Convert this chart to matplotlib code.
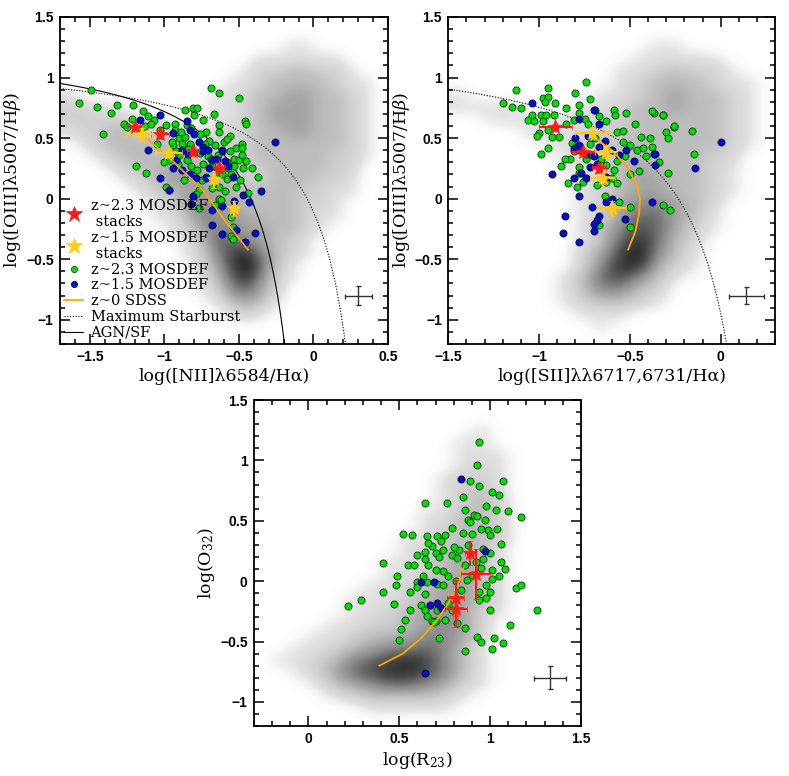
import numpy as np
import matplotlib
matplotlib.use("Agg")
import matplotlib.pyplot as plt
from matplotlib.colors import LinearSegmentedColormap
from matplotlib.lines import Line2D
from matplotlib.ticker import MultipleLocator, FuncFormatter

plt.rcParams['mathtext.fontset'] = 'dejavuserif'

# ---- SDSS density maps (0.1 dex cells, top row first), digits 0-9 ----
sdss_n2 = [
    "0000000000000000000000", "0000000000000000000000", "0000000000000001100000",
    "0000000000000111111000", "0000000000001223322100", "0000000000011233332110",
    "1000000000112334433210", "2211000000112344433210", "2222211000112344433210",
    "1223322211122334433210", "0123333322222333333210", "0012333333222333332210",
    "0001233443322233332200", "0000123444332233322100", "0000012344433333221100",
    "0000001245443333221000", "0000001135544333211000", "0000000124554433210000",
    "0000000013665432100000", "0000000012578532100000", "0000000002479631000000",
    "0000000001368521000000", "0000000001256420000000", "0000000000134310000000",
    "0000000000012100000000", "0000000000000000000000", "0000000000000000000000",
]
sdss_s2 = [
    "000000000000000000", "000000000000000000", "000000000001100000",
    "000000000011111000", "000000000112322100", "000000000123332110",
    "100000001123433210", "111100011233433210", "001111112233333210",
    "000011122233333210", "000001122333333210", "000000112333332200",
    "000000112343332100", "000000012344332100", "000000012344332100",
    "000000012455432000", "000000012466431000", "000000013576421000",
    "000000013686320000", "000000024795310000", "000000025884210000",
    "000000136753100000", "000000135532000000", "000000123321000000",
    "000000011100000000", "000000001000000000", "000000000000000000",
]
sdss_r23 = [
    "000000000000000000", "000000000000000000", "000000000000100000",
    "000000000001100000", "000000000001110000", "000000000001210000",
    "000000000012210000", "000000000012310000", "000000000012320000",
    "000000000113320000", "000000000123320000", "000000001123320000",
    "000000001233310000", "000000011234310000", "000000011234310000",
    "000000112344310000", "000001112344310000", "000001123454210000",
    "000011223454200000", "000112334554200000", "001123455653100000",
    "011235678753100000", "001246788753100000", "000134566542100000",
    "000012333321000000", "000000111110000000", "000000000000000000",
]

# ---- MOSDEF individual galaxies ----
n2_green_x = [-1.49, -1.57, -1.45, -1.36, -1.32, -1.41, -1.21, -1.22, -1.14, -1.11, -1.07, -1.03,
              -1.13, -0.99, -0.93, -0.93, -0.90, -0.86, -0.85, -0.82, -0.80, -0.81, -0.74, -0.67,
              -0.63, -0.63, -0.69, -0.63, -0.46, -0.45, -0.48, -0.52, -0.56, -0.61, -0.53, -0.50,
              -0.41, -0.55, -0.58, -0.63, -0.68, -0.72, -0.75, -0.77, -0.79, -0.77, -0.66, -0.63,
              -0.55, -0.54, -1.19, -1.12, -0.99, -0.97, -0.94, -0.90, -0.85, -0.82, -0.78, -0.91,
              -0.97, -0.74, -0.71, -0.68, -0.65, -0.61, -0.57, -0.48, -0.48, -0.45, -0.50, -0.86,
              -0.78, -0.37, -0.62, -0.55, -0.54, -1.27, -1.05, -0.88, -0.70, -0.60, -0.58, -0.52,
              -0.44, -0.95, -0.87, -0.76, -0.72, -0.66, -0.59, -0.56, -1.00, -1.16, -0.83, -0.47,
              -1.25, -1.09, -0.92, -0.89, -0.84, -0.76, -0.73, -0.69, -0.64, -0.58, -0.53, -0.49]
n2_green_y = [0.90, 0.79, 0.76, 0.71, 0.77, 0.53, 0.77, 0.66, 0.72, 0.68, 0.65, 0.57,
              0.60, 0.61, 0.62, 0.57, 0.50, 0.51, 0.61, 0.58, 0.69, 0.75, 0.65, 0.70,
              0.61, 0.55, 0.91, 0.87, 0.64, 0.62, 0.45, 0.42, 0.39, 0.40, 0.33, 0.32,
              0.25, 0.20, 0.16, 0.10, 0.09, 0.18, 0.15, 0.07, 0.04, -0.08, -0.05, 0.00,
              -0.15, -0.23, 0.27, 0.21, 0.10, 0.07, 0.44, 0.36, 0.32, 0.27, 0.24, 0.29,
              0.32, 0.29, 0.35, 0.27, 0.22, 0.20, 0.25, 0.42, 0.36, 0.31, 0.83, 0.73,
              0.75, 0.18, -0.01, -0.31, -0.33, 0.62, 0.45, 0.45, 0.48, 0.47, 0.30, 0.10,
              0.05, 0.47, 0.15, 0.38, 0.55, 0.44, 0.06, 0.52, 0.30, 0.56, 0.45, 0.25,
              0.59, 0.62, 0.39, 0.55, 0.41, 0.53, 0.45, 0.33, 0.36, 0.49, 0.27, 0.15]
n2_blue_x = [-1.03, -1.11, -0.94, -0.85, -0.83, -0.80, -0.88, -0.84, -0.77, -0.74, -0.75, -0.71,
             -0.68, -0.65, -0.61, -0.59, -0.92, -0.94, -0.88, -1.03, -0.83, -0.79, -0.72, -0.81,
             -0.82, -0.68, -0.61, -0.68, -0.61, -0.52, -0.43, -0.54, -0.26, -0.35, -0.39, -0.46,
             -0.97, -1.16, -0.57, -0.53, -0.47, -0.70]
n2_blue_y = [0.69, 0.40, 0.54, 0.64, 0.57, 0.53, 0.40, 0.37, 0.47, 0.43, 0.39, 0.40,
             0.32, 0.33, 0.39, 0.31, 0.32, 0.25, 0.24, 0.17, 0.20, 0.17, 0.17, 0.02,
             -0.04, -0.09, -0.06, -0.22, -0.29, -0.26, -0.03, 0.18, 0.47, 0.06, -0.28, -0.36,
             0.07, 0.65, 0.27, -0.02, 0.03, 0.25]

s2_green_x = [-1.13, -1.20, -1.15, -1.10, -0.98, -0.95, -0.95, -0.97, -0.91, -0.80, -0.74, -0.72,
              -0.78, -0.85, -1.04, -1.06, -1.03, -0.99, -0.98, -0.96, -0.92, -1.00, -1.01, -0.95,
              -0.93, -0.89, -0.95, -0.99, -0.85, -0.81, -0.78, -0.75, -0.73, -0.69, -0.67, -0.63,
              -0.59, -0.58, -0.52, -0.47, -0.37, -0.32, -0.30, -0.26, -0.29, -0.57, -0.54, -0.50,
              -0.46, -0.43, -0.39, -0.44, -0.38, -0.41, -0.53, -0.57, -0.59, -0.63, -0.66, -0.71,
              -0.74, -0.83, -0.86, -0.81, -0.78, -0.78, -0.84, -0.79, -0.76, -0.68, -0.63, -0.60,
              -0.57, -0.64, -0.56, -0.50, -0.50, -0.67, -0.32, -0.28, -0.16, -0.15, -0.26, -0.32,
              -0.38, -0.34, -0.50, -0.29, -0.88, -0.72, -0.69, -0.82, -0.54, -0.45]
s2_green_y = [0.90, 0.79, 0.76, 0.75, 0.83, 0.84, 0.91, 0.80, 0.79, 0.87, 0.96, 0.82,
              0.77, 0.75, 0.69, 0.65, 0.64, 0.69, 0.64, 0.69, 0.69, 0.54, 0.52, 0.57,
              0.51, 0.51, 0.42, 0.37, 0.62, 0.65, 0.71, 0.66, 0.62, 0.73, 0.68, 0.64,
              0.73, 0.69, 0.71, 0.62, 0.71, 0.69, 0.55, 0.59, 0.50, 0.55, 0.47, 0.44,
              0.40, 0.42, 0.50, 0.51, 0.43, 0.35, 0.35, 0.31, 0.24, 0.28, 0.33, 0.36,
              0.33, 0.33, 0.33, 0.39, 0.26, 0.21, 0.13, 0.10, 0.14, 0.11, 0.14, 0.17,
              0.13, 0.02, -0.03, -0.07, -0.23, -0.22, -0.05, -0.09, 0.56, 0.37, 0.60, 0.69,
              0.72, 0.30, 0.20, 0.21, 0.27, 0.45, 0.50, 0.46, 0.56, 0.23]
s2_blue_x = [-1.04, -0.70, -0.78, -0.67, -0.80, -0.78, -0.81, -0.78, -0.74, -0.70, -0.67, -0.64,
             -0.60, -0.56, -0.68, -0.72, -0.77, -0.81, -0.74, -0.63, -0.52, -0.93, -0.78, -0.71,
             -0.63, -0.60, -0.67, -0.68, -0.70, -0.86, -0.87, -0.78, -0.70, -0.53, -0.48, -0.36,
             -0.38, 0.00, -0.14, -0.37, -0.36, -0.73]
s2_blue_y = [0.79, 0.73, 0.66, 0.62, 0.50, 0.44, 0.42, 0.40, 0.37, 0.35, 0.43, 0.48,
             0.40, 0.36, 0.29, 0.26, 0.21, 0.17, 0.17, 0.18, 0.40, 0.20, 0.02, -0.07,
             -0.03, 0.00, -0.14, -0.18, -0.21, -0.14, -0.28, -0.36, -0.27, -0.17, 0.31, 0.37,
             -0.03, 0.47, 0.25, 0.37, 0.28, 0.52]

r23_green_x = [0.94, 0.93, 0.89, 0.94, 1.07, 1.01, 1.05, 0.85, 0.64, 0.76, 0.86, 0.91,
               0.93, 0.98, 1.03, 1.10, 1.17, 0.88, 0.89, 0.97, 0.95, 0.99, 1.04, 0.79,
               0.75, 0.65, 0.71, 0.52, 0.57, 0.85, 0.90, 1.00, 1.06, 0.73, 0.68, 0.64,
               0.60, 0.64, 0.70, 0.74, 0.72, 0.79, 0.82, 0.86, 0.92, 0.96, 1.00, 1.06,
               1.08, 1.01, 0.95, 1.01, 1.05, 0.98, 1.00, 0.94, 0.87, 0.84, 0.77, 0.74,
               0.70, 0.66, 0.63, 0.60, 0.65, 0.71, 0.74, 0.60, 0.64, 0.56, 0.55, 0.49,
               0.48, 0.41, 0.47, 0.53, 0.51, 0.50, 0.22, 0.29, 0.62, 0.64, 0.65, 0.68,
               0.70, 0.72, 0.71, 0.75, 0.77, 0.79, 0.82, 0.86, 0.86, 0.93, 0.95, 0.94,
               0.98, 1.00, 1.02, 1.07, 1.01, 1.11, 1.14, 1.17, 1.26, 0.41, 0.58, 0.66,
               0.83, 0.88, 0.90, 0.80, 0.96, 0.69, 0.56, 0.81]
r23_green_y = [1.15, 0.96, 0.83, 0.79, 0.83, 0.74, 0.71, 0.70, 0.65, 0.65, 0.59, 0.55,
               0.54, 0.62, 0.59, 0.58, 0.53, 0.51, 0.49, 0.51, 0.43, 0.42, 0.43, 0.44,
               0.38, 0.37, 0.37, 0.39, 0.38, 0.40, 0.39, 0.38, 0.31, 0.33, 0.29, 0.24,
               0.22, 0.18, 0.23, 0.26, 0.20, 0.22, 0.19, 0.13, 0.16, 0.18, 0.23, 0.16,
               0.10, 0.09, 0.11, 0.02, 0.04, -0.03, -0.09, -0.09, 0.01, -0.07, 0.04, 0.08,
               0.09, 0.13, 0.04, -0.01, -0.01, -0.02, -0.03, -0.05, -0.11, -0.09, 0.13, 0.04,
               -0.03, -0.09, -0.19, -0.32, -0.40, -0.49, -0.21, -0.16, -0.20, -0.24, -0.29, -0.33,
               -0.33, -0.47, -0.24, -0.32, -0.18, -0.24, -0.35, -0.39, -0.58, -0.46, -0.50, -0.16,
               -0.14, -0.24, -0.47, -0.51, -0.56, -0.36, -0.06, -0.03, -0.24, 0.15, 0.13, 0.32,
               0.26, 0.30, 0.05, 0.28, 0.27, -0.34, -0.24, 0.00]
r23_blue_x = [0.84, 0.97, 0.62, 0.69, 0.67, 0.71, 0.73, 0.64]
r23_blue_y = [0.85, 0.25, -0.01, -0.01, -0.20, -0.18, -0.22, -0.76]

# ---- stacks: x, y, xerr, yerr ----
n2_red = ([-1.20, -1.03, -0.81, -0.63], [0.59, 0.53, 0.39, 0.25],
          [0.05, 0.06, 0.04, 0.03], [0.03, 0.04, 0.04, 0.04])
n2_yel = ([-1.15, -0.97, -0.67, -0.53], [0.53, 0.38, 0.16, -0.08],
          [0.11, 0.09, 0.03, 0.03], [0.05, 0.04, 0.07, 0.06])
s2_red = ([-0.91, -0.76, -0.67], [0.59, 0.385, 0.25],
          [0.09, 0.06, 0.04], [0.03, 0.03, 0.04])
s2_yel = ([-0.71, -0.63, -0.65, -0.60], [0.54, 0.385, 0.17, -0.08],
          [0.09, 0.06, 0.07, 0.08], [0.05, 0.05, 0.05, 0.06])
r23_red = ([0.89, 0.92, 0.81, 0.81], [0.23, 0.06, -0.14, -0.23],
           [0.03, 0.08, 0.045, 0.06], [0.10, 0.21, 0.15, 0.15])

# ---- z~0 SDSS running curves ----
n2_sdss_x = [-1.15, -0.96, -0.74, -0.60, -0.44]
n2_sdss_y = [0.53, 0.33, 0.07, -0.17, -0.42]
s2_sdss_x = [-0.71, -0.60, -0.52, -0.465, -0.445, -0.45, -0.47, -0.51]
s2_sdss_y = [0.52, 0.40, 0.27, 0.13, 0.00, -0.12, -0.27, -0.42]
r23_sdss_x = [0.39, 0.52, 0.625, 0.71, 0.77, 0.826, 0.853]
r23_sdss_y = [-0.70, -0.60, -0.465, -0.32, -0.18, -0.02, 0.11]

# demarcation curves y = a / (x - b) + c
kauffmann = (0.61, 0.05, 1.30)
kewley_n2 = (0.61, 0.47, 1.19)
kewley_s2 = (0.72, 0.32, 1.30)

# typical error bars: x, y, xerr, yerr
typ_err = {'n2': (0.30, -0.80, 0.09, 0.075),
           's2': (0.14, -0.80, 0.096, 0.073),
           'r23': (1.33, -0.80, 0.087, 0.097)}

GREEN = '#00e000'
BLUE = '#0010c8'
RED = '#ff1a1a'
YEL = '#ffcc11'
ORANGE = '#ffa500'

cmap = LinearSegmentedColormap.from_list(
    'sdss', [(0, 'white'), (1 / 9, '#e0e0e0'), (2 / 9, '#d0d0d0'), (3 / 9, '#bcbcbc'),
             (5 / 9, '#8a8a8a'), (7 / 9, '#4a4a4a'), (1.0, '#121212')])

TICKFONT = {'family': 'Liberation Sans', 'weight': 'bold', 'size': 10}


def tick_fmt(v, pos):
    s = '%g' % round(v, 2)
    if s == '-0':
        s = '0'
    return s.replace('-', '\u2212')


def style_axes(ax, xlim, ylim):
    ax.set_xlim(*xlim)
    ax.set_ylim(*ylim)
    for a in (ax.xaxis, ax.yaxis):
        a.set_major_locator(MultipleLocator(0.5))
        a.set_minor_locator(MultipleLocator(0.1))
        a.set_major_formatter(FuncFormatter(tick_fmt))
    ax.tick_params(which='both', direction='in', top=True, right=True, width=1.1)
    ax.tick_params(which='major', length=7, pad=4.5)
    ax.tick_params(which='minor', length=3.5)
    for t in ax.get_xticklabels() + ax.get_yticklabels():
        t.set_fontproperties(TICKFONT)
    for sp in ax.spines.values():
        sp.set_linewidth(1.3)


def draw_density(ax, rows, xlim, ylim):
    grid = np.array([[int(c) for c in r] for r in rows], dtype=float)
    ax.imshow(grid, cmap=cmap, vmin=0, vmax=9, extent=[xlim[0], xlim[1], ylim[0], ylim[1]],
              origin='upper', aspect='auto', interpolation='bicubic', zorder=0)


def draw_points(ax, gx, gy, bx, by):
    ax.scatter(gx, gy, s=26, c=GREEN, edgecolors='#103010', linewidths=0.6, zorder=3)
    ax.scatter(bx, by, s=26, c=BLUE, edgecolors='#000040', linewidths=0.6, zorder=3)


def draw_stack(ax, st, color):
    x, y, xe, ye = st
    ax.errorbar(x, y, xerr=xe, yerr=ye, fmt='*', color=color, ms=11, mew=0.5,
                elinewidth=1.5, capsize=2.5, zorder=5)


def draw_typ(ax, key):
    x, y, xe, ye = typ_err[key]
    ax.errorbar([x], [y], xerr=[xe], yerr=[ye], fmt='none', ecolor='#333333',
                elinewidth=1.0, capsize=1.8, zorder=4)


def demarc(ax, coef, x0, x1, **kw):
    a, b, c = coef
    xs = np.linspace(x0, x1, 300)
    ax.plot(xs, a / (xs - b) + c, color='black', zorder=2, **kw)


fig = plt.figure(figsize=(7.89, 7.76), dpi=100)
ax1 = fig.add_axes([0.0760, 0.5567, 0.4157, 0.4214])
ax2 = fig.add_axes([0.5682, 0.5567, 0.4144, 0.4214])
ax3 = fig.add_axes([0.3219, 0.0644, 0.4144, 0.4201])

lab = dict(fontsize=12.5, family='DejaVu Serif')

# panel 1: [NII] BPT
lim1 = ((-1.7, 0.5), (-1.2, 1.5))
draw_density(ax1, sdss_n2, *lim1)
demarc(ax1, kauffmann, -1.7, -0.194, lw=0.8)
demarc(ax1, kewley_n2, -1.7, 0.214, lw=0.8, ls=(0, (1, 1.5)))
draw_points(ax1, n2_green_x, n2_green_y, n2_blue_x, n2_blue_y)
ax1.plot(n2_sdss_x, n2_sdss_y, color=ORANGE, lw=1.3, zorder=4)
draw_stack(ax1, n2_red, RED)
draw_stack(ax1, n2_yel, YEL)
draw_typ(ax1, 'n2')
style_axes(ax1, *lim1)
ax1.set_xlabel('log([NII]\u03bb6584/H\u03b1)', labelpad=3, **lab)
ax1.set_ylabel('log([OIII]\u03bb5007/H$\\beta$)', labelpad=2, **lab)

handles = [
    Line2D([], [], ls='none', marker='*', color=RED, ms=12, mew=0.5),
    Line2D([], [], ls='none', marker='*', color=YEL, ms=12, mew=0.5),
    Line2D([], [], ls='none', marker='o', mfc=GREEN, mec='#103010', ms=4.5, mew=0.5),
    Line2D([], [], ls='none', marker='o', mfc=BLUE, mec='#000040', ms=4.5, mew=0.5),
    Line2D([], [], color=ORANGE, lw=1.3),
    Line2D([], [], color='black', lw=0.8, ls=(0, (1, 1.5))),
    Line2D([], [], color='black', lw=0.8),
]
labels = ['z~2.3 MOSDEF\n stacks', 'z~1.5 MOSDEF\n stacks', 'z~2.3 MOSDEF', 'z~1.5 MOSDEF',
          'z~0 SDSS', 'Maximum Starburst', 'AGN/SF']
ax1.legend(handles, labels, loc='lower left', frameon=False, handlelength=1.3,
           handletextpad=0.5, labelspacing=0.12, borderaxespad=0.1, borderpad=0.2,
           prop={'family': 'DejaVu Serif', 'size': 10.5})

# panel 2: [SII] BPT
lim2 = ((-1.5, 0.3), (-1.2, 1.5))
draw_density(ax2, sdss_s2, *lim2)
demarc(ax2, kewley_s2, -1.5, 0.032, lw=0.8, ls=(0, (1, 1.5)))
draw_points(ax2, s2_green_x, s2_green_y, s2_blue_x, s2_blue_y)
ax2.plot(s2_sdss_x, s2_sdss_y, color=ORANGE, lw=1.3, zorder=4)
draw_stack(ax2, s2_red, RED)
draw_stack(ax2, s2_yel, YEL)
draw_typ(ax2, 's2')
style_axes(ax2, *lim2)
ax2.set_xlabel('log([SII]\u03bb\u03bb6717,6731/H\u03b1)', labelpad=3, **lab)
ax2.set_ylabel('log([OIII]\u03bb5007/H$\\beta$)', labelpad=2, **lab)

# panel 3: O32 vs R23
lim3 = ((-0.3, 1.5), (-1.2, 1.5))
draw_density(ax3, sdss_r23, *lim3)
draw_points(ax3, r23_green_x, r23_green_y, r23_blue_x, r23_blue_y)
ax3.plot(r23_sdss_x, r23_sdss_y, color=ORANGE, lw=1.3, zorder=4)
draw_stack(ax3, r23_red, RED)
draw_typ(ax3, 'r23')
style_axes(ax3, *lim3)
ax3.set_xlabel('log(R$_{23}$)', labelpad=3, **lab)
ax3.set_ylabel('log(O$_{32}$)', labelpad=2, **lab)

fig.savefig('out.png', dpi=100)
